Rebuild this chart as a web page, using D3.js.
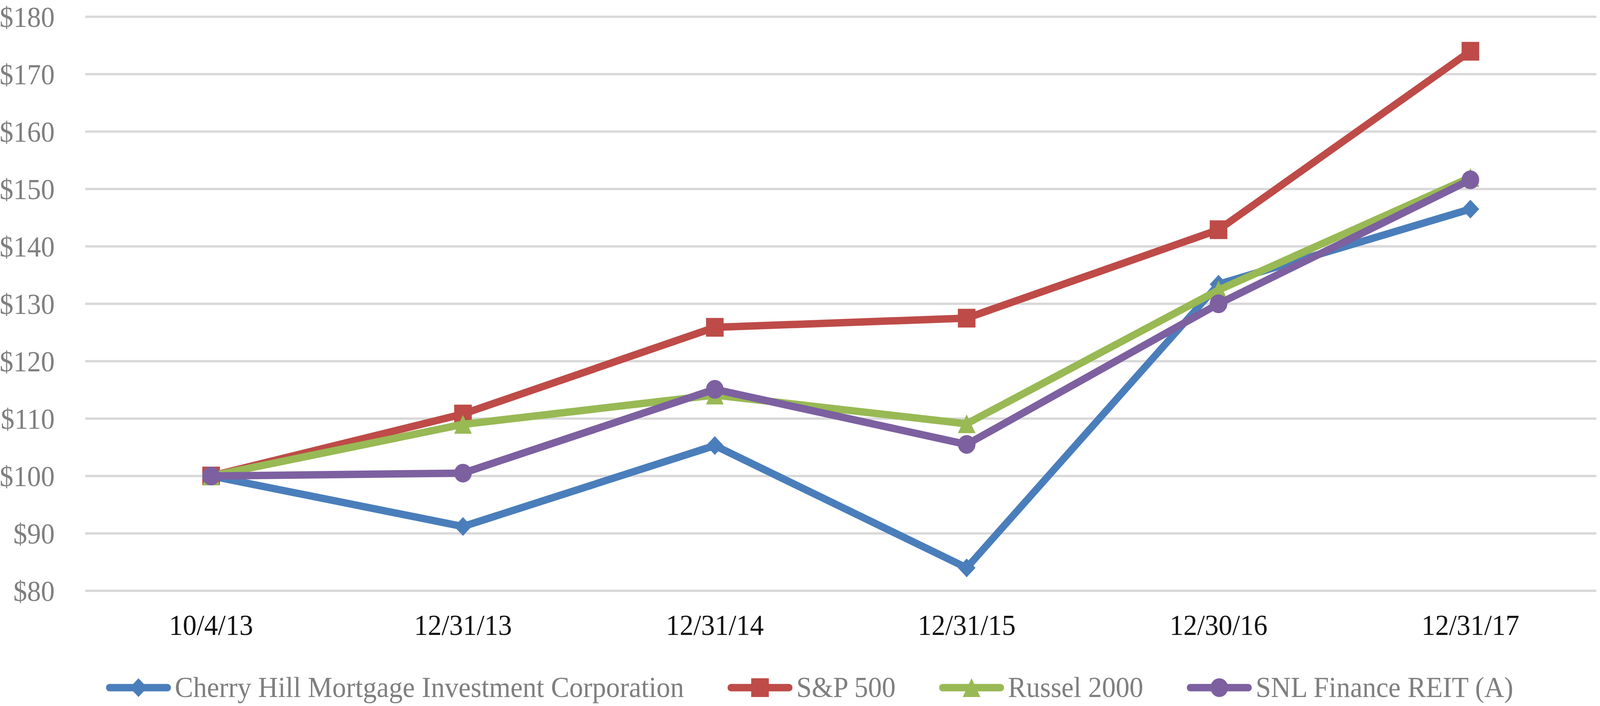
<!DOCTYPE html>
<html>
<head>
<meta charset="utf-8">
<script src="https://cdn.jsdelivr.net/npm/d3@7"></script>
<style>
  html, body { margin: 0; padding: 0; background: #fff; overflow: hidden; }
  #chart { display: block; width: 100vw; height: 100vh; }
  text { font-family: "Liberation Serif", "Times New Roman", serif; }
</style>
</head>
<body>
<svg id="chart" viewBox="0 0 4358 1808" preserveAspectRatio="none"></svg>
<script>
const dates = ["10/4/13", "12/31/13", "12/31/14", "12/31/15", "12/30/16", "12/31/17"];
const yTicks = [80, 90, 100, 110, 120, 130, 140, 150, 160, 170, 180];

const cherryHill = [100, 91.2, 105.3, 84.0, 133.4, 146.5];
const sp500 = [100, 110.8, 125.9, 127.5, 142.9, 174.0];
const russell2000 = [100, 109.0, 114.1, 109.1, 132.4, 152.0];
const snlReit = [100, 100.5, 115.1, 105.5, 130.0, 151.6];

const seriesNames = ["Cherry Hill Mortgage Investment Corporation", "S&P 500", "Russel 2000", "SNL Finance REIT (A)"];
const seriesValues = [cherryHill, sp500, russell2000, snlReit];
const seriesColors = ["#4a7ebb", "#be4b48", "#98b954", "#7d60a0"];

// excel style markers, all fit a box of the same size
const boxDiamond = {draw(ctx, size) {
    const h = Math.sqrt(size) / 2;
    ctx.moveTo(0, -h); ctx.lineTo(h, 0); ctx.lineTo(0, h); ctx.lineTo(-h, 0); ctx.closePath();
}};
const boxTriangle = {draw(ctx, size) {
    const h = Math.sqrt(size) / 2;
    ctx.moveTo(0, -h); ctx.lineTo(h, h); ctx.lineTo(-h, h); ctx.closePath();
}};
const boxCircle = {draw(ctx, size) {
    const h = Math.sqrt(size) / 2;
    ctx.moveTo(h, 0); ctx.arc(0, 0, h, 0, 2 * Math.PI);
}};
const seriesSymbols = [boxDiamond, d3.symbolSquare, boxTriangle, boxCircle];
const markerSize = 48;

function drawChart() {
    const svg = d3.select("#chart");
    const margin = {top: 43, left: 232, right: 10};
    const plotBottom = 1513;
    const width = 4358;

    const x = d3.scaleBand()
        .domain(dates)
        .range([margin.left, width - margin.right]);

    const y = d3.scaleLinear()
        .domain([80, 180])
        .range([plotBottom, margin.top]);

    // gridlines
    svg.append("g")
        .selectAll("line")
        .data(yTicks)
        .enter()
        .append("line")
        .attr("x1", margin.left)
        .attr("x2", width - margin.right)
        .attr("y1", d => y(d))
        .attr("y2", d => y(d))
        .attr("stroke", "#d9d9d9")
        .attr("stroke-width", 6);

    // y axis labels
    const yAxis = d3.axisLeft(y)
        .tickValues(yTicks)
        .tickSize(0)
        .tickPadding(0)
        .tickFormat(d => "$" + d);

    svg.append("g")
        .attr("transform", "translate(149,0)")
        .call(yAxis)
        .call(g => g.select(".domain").remove())
        .selectAll("text")
        .attr("font-family", "Liberation Serif, serif")
        .attr("font-size", 75)
        .attr("fill", "#7f7f7f")
        .attr("dy", "0.34em");

    // x axis labels
    const xAxis = d3.axisBottom(x).tickSize(0).tickPadding(0);
    svg.append("g")
        .attr("transform", "translate(0,1626)")
        .call(xAxis)
        .call(g => g.select(".domain").remove())
        .selectAll("text")
        .attr("font-family", "Liberation Serif, serif")
        .attr("font-size", 75)
        .attr("fill", "#111")
        .attr("dy", 0);

    const cx = d => x(d) + x.bandwidth() / 2;

    const line = d3.line()
        .x((d, i) => cx(dates[i]))
        .y(d => y(d));

    seriesValues.forEach((vals, s) => {
        const g = svg.append("g");
        g.append("path")
            .datum(vals)
            .attr("d", line)
            .attr("fill", "none")
            .attr("stroke", seriesColors[s])
            .attr("stroke-width", 19)
            .attr("stroke-linejoin", "round");

        g.selectAll(".point")
            .data(vals)
            .enter()
            .append("path")
            .attr("class", "point")
            .attr("transform", (d, i) => `translate(${cx(dates[i])},${y(d)})`)
            .attr("d", markerPath(s))
            .attr("fill", seriesColors[s]);
    });

    drawLegend(svg);
}

function markerPath(s) {
    return d3.symbol().type(seriesSymbols[s]).size(markerSize * markerSize)();
}

function drawLegend(svg) {
    const lineLen = 178, textGap = 10, itemGap = 118;
    const lineY = 1761, baseY = 1785;
    const legend = svg.append("g");

    const items = seriesNames.map((name, s) => {
        const item = legend.append("g");
        item.append("line")
            .attr("x1", 10).attr("x2", lineLen - 10)
            .attr("y1", lineY).attr("y2", lineY)
            .attr("stroke", seriesColors[s])
            .attr("stroke-width", 19)
            .attr("stroke-linecap", "round");
        item.append("path")
            .attr("transform", `translate(${lineLen / 2},${lineY})`)
            .attr("d", markerPath(s))
            .attr("fill", seriesColors[s]);
        const t = item.append("text")
            .attr("x", lineLen + textGap)
            .attr("y", baseY)
            .attr("font-size", 75)
            .attr("fill", "#7f7f7f")
            .text(name);
        return {item: item, w: lineLen + textGap + t.node().getComputedTextLength()};
    });

    const total = d3.sum(items, d => d.w) + itemGap * (items.length - 1);
    let pos = 2205 - total / 2;
    items.forEach(d => {
        d.item.attr("transform", `translate(${pos},0)`);
        pos += d.w + itemGap;
    });
}

drawChart();
</script>
</body>
</html>
